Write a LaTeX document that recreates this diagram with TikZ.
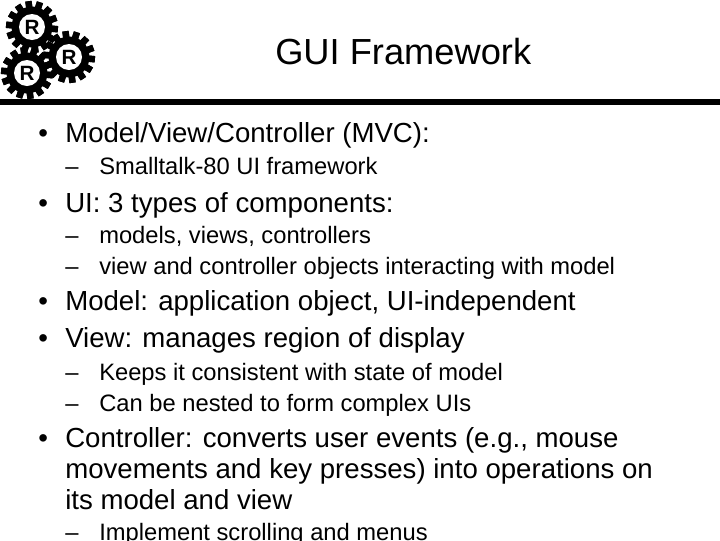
\documentclass[tikz,border=0pt]{standalone}
\usepackage{fontspec}
\setmainfont{Liberation Sans}
\tikzset{
  headline/.style={anchor=base west, inner sep=0pt, font=\fontsize{27.2}{30}\selectfont},
  itemA/.style={anchor=base west, inner sep=0pt, font=\fontsize{20.7}{24}\selectfont},
  itemB/.style={anchor=base west, inner sep=0pt, font=\fontsize{17.8}{20}\selectfont},
  gearletter/.style={circle, fill=white, inner sep=0pt, minimum size=19.5pt, font=\fontsize{15.5}{15.5}\bfseries\selectfont},
  gear/.pic={
    \fill[black] (0,0) circle (20.5);
    \foreach \a in {0,25.7,...,340}
      \fill[black, rotate=\a+8] (-3.2,-26) rectangle (3.2,26);
  }
}
\begin{document}
\begin{tikzpicture}[x=.75pt,y=-.75pt]
\useasboundingbox (0,0) rectangle (720,540);
\clip (0,0) rectangle (720,540);
\fill[white] (0,0) rectangle (720,540);
% gears
\pic at (32,27) {gear};
\pic at (69,57) {gear};
\pic at (27,73) {gear};
\node[gearletter] (gearA) at (32,27) {R};
\node[gearletter] (gearB) at (69,57) {R};
\node[gearletter] (gearC) at (27,73) {R};
\fill[black] (0,98.5) rectangle (720,105);
\node[headline] (title) at (275,64) {GUI Framework};
% first level
\node[itemA] (bulA) at (38,142) {•};
\node[itemA] (txtA) at (65,142) {Model/View/Controller (MVC):};
\node[itemB] (dashA) at (65,174) {–};
\node[itemB] (subA) at (99,174) {Smalltalk-80 UI framework};
\node[itemA] (bulB) at (38,212) {•};
\node[itemA] (txtB) at (65,212) {UI: 3 types of components:};
\node[itemB] (dashB) at (65,243) {–};
\node[itemB] (subB) at (99,243) {models, views, controllers};
\node[itemB] (dashC) at (65,274) {–};
\node[itemB] (subC) at (99,274) {view and controller objects interacting with model};
\node[itemA] (bulC) at (38,310) {•};
\node[itemA] (txtC) at (65,310) {Model: application object, UI-independent};
\node[itemA] (bulD) at (38,347) {•};
\node[itemA] (txtD) at (65,347) {View: manages region of display};
\node[itemB] (dashD) at (65,380) {–};
\node[itemB] (subD) at (99,380) {Keeps it consistent with state of model};
\node[itemB] (dashE) at (65,411) {–};
\node[itemB] (subE) at (99,411) {Can be nested to form complex UIs};
\node[itemA] (bulE) at (38,447) {•};
\node[itemA] (txtE) at (65,447) {Controller: converts user events (e.g., mouse};
\node[itemA] (txtF) at (65,478) {movements and key presses) into operations on};
\node[itemA] (txtG) at (65,509) {its model and view};
\node[itemB] (dashF) at (65,540) {–};
\node[itemB] (subF) at (99,540) {Implement scrolling and menus};
\end{tikzpicture}
\end{document}
